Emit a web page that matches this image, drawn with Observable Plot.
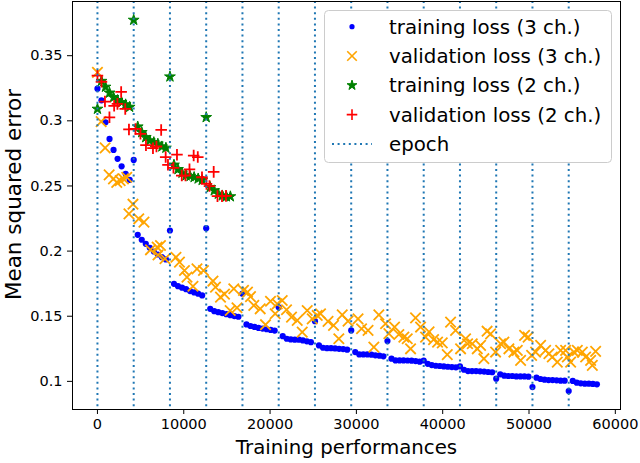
<!DOCTYPE html>
<html><head><meta charset="utf-8">
<script src="https://cdn.jsdelivr.net/npm/d3@7"></script>
<script src="https://cdn.jsdelivr.net/npm/@observablehq/plot@0.6"></script>
<style>
body{margin:0;background:#fff;}
#chart{width:640px;height:463px;}
</style></head><body><div id="chart"></div>
<script>
// epoch boundaries (training samples)
const epochStarts = [0, 4200, 8400, 12600, 16800, 21000, 25200, 29400, 33600, 37800, 42000, 46200, 50400, 54600];
// sample positions of the 9 measurements inside one epoch
const stepOffsets = [0, 467, 933, 1400, 1867, 2333, 2800, 3267, 3733];

// training loss (3 channels), one row per epoch
const train3 = [
  [0.3247, 0.3157, 0.2989, 0.2861, 0.2777, 0.2708, 0.2651, 0.2593, 0.2547],
  [0.2700, 0.2125, 0.2087, 0.2056, 0.2025, 0.1997, 0.1974, 0.1953, 0.1936],
  [0.2158, 0.1749, 0.1731, 0.1719, 0.1708, 0.1693, 0.1683, 0.1673, 0.1660],
  [0.2176, 0.1557, 0.1539, 0.1531, 0.1524, 0.1516, 0.1508, 0.1501, 0.1496],
  [0.1673, 0.1437, 0.1425, 0.1418, 0.1410, 0.1405, 0.1400, 0.1395, 0.1390],
  [0.1568, 0.1347, 0.1327, 0.1322, 0.1320, 0.1320, 0.1314, 0.1307, 0.1301],
  [0.1462, 0.1276, 0.1258, 0.1255, 0.1255, 0.1253, 0.1250, 0.1248, 0.1243],
  [0.1391, 0.1225, 0.1207, 0.1207, 0.1207, 0.1205, 0.1200, 0.1197, 0.1192],
  [0.1309, 0.1174, 0.1161, 0.1161, 0.1161, 0.1160, 0.1159, 0.1156, 0.1151],
  [0.1160, 0.1135, 0.1125, 0.1120, 0.1118, 0.1115, 0.1112, 0.1110, 0.1108],
  [0.1115, 0.1089, 0.1079, 0.1079, 0.1079, 0.1077, 0.1075, 0.1072, 0.1070],
  [0.1021, 0.1054, 0.1044, 0.1041, 0.1041, 0.1038, 0.1038, 0.1038, 0.1036],
  [0.0956, 0.1028, 0.1018, 0.1013, 0.1010, 0.1010, 0.1008, 0.1005, 0.1005],
  [0.0926, 0.1003, 0.0990, 0.0985, 0.0982, 0.0982, 0.0980, 0.0977]
];

// training loss (2 channels), one row per epoch
const train2 = [
  [0.3091, 0.3305, 0.3260, 0.3215, 0.3180, 0.3158, 0.3142, 0.3125, 0.3106],
  [0.3774, 0.2955, 0.2912, 0.2873, 0.2848, 0.2835, 0.2823, 0.2802, 0.2792],
  [0.3339, 0.2662, 0.2628, 0.2600, 0.2580, 0.2575, 0.2567, 0.2556, 0.2545],
  [0.3027, 0.2490, 0.2465, 0.2439, 0.2426, 0.2419, 0.2419]
];

// validation loss (3 channels)
const val3X = [
  0, 429, 892, 1356, 1854, 2237, 2631, 3013, 3396, 3651,
  4114, 4787, 5389, 6143, 6919, 7012, 7302, 7823, 9098, 9504,
  10083, 10373, 11068, 11532, 12285, 13386, 13676, 14256, 14719, 15380,
  15797, 16168, 16921, 17385, 17733, 18115, 18857, 19471, 20051, 20595,
  20827, 21407, 21905, 22485, 23145, 23725, 24304, 24884, 25463, 25846,
  26715, 27352, 27967, 28361, 29033, 30192, 30598, 31351, 32023, 32603,
  33379, 33762, 34422, 34921, 35500, 35894, 36277, 36856, 37436, 38015,
  38421, 38942, 39406, 39951, 40530, 40913, 41492, 42072, 42651, 42883,
  43428, 44007, 44390, 44772, 45143, 45549, 46128, 46708, 47090, 47670,
  48249, 48643, 49026, 49489, 49895, 50301, 50764, 51344, 51923, 52306,
  52700, 53279, 53662, 54241, 54438, 54821, 55203, 55597, 56177, 56559,
  57139, 57336, 57718
];
const val3Y = [
  0.3372, 0.2994, 0.2792, 0.2585, 0.2554, 0.2528, 0.2541, 0.2554, 0.2567, 0.2286,
  0.2360, 0.2248, 0.2222, 0.2010, 0.2030, 0.1970, 0.2043, 0.1941, 0.1953, 0.1915,
  0.1851, 0.1800, 0.1730, 0.1864, 0.1851, 0.1770, 0.1723, 0.1647, 0.1670, 0.1544,
  0.1711, 0.1565, 0.1698, 0.1685, 0.1650, 0.1583, 0.1557, 0.1435, 0.1615, 0.1519,
  0.1595, 0.1621, 0.1550, 0.1493, 0.1468, 0.1378, 0.1544, 0.1480, 0.1506, 0.1519,
  0.1460, 0.1430, 0.1327, 0.1510, 0.1462, 0.1480, 0.1404, 0.1391, 0.1263, 0.1510,
  0.1442, 0.1366, 0.1417, 0.1360, 0.1340, 0.1327, 0.1250, 0.1487, 0.1417, 0.1340,
  0.1380, 0.1320, 0.1301, 0.1295, 0.1205, 0.1455, 0.1391, 0.1250, 0.1327, 0.1289,
  0.1289, 0.1250, 0.1276, 0.1174, 0.1385, 0.1365, 0.1225, 0.1289, 0.1301, 0.1250,
  0.1225, 0.1238, 0.1161, 0.1353, 0.1340, 0.1199, 0.1225, 0.1276, 0.1238, 0.1212,
  0.1187, 0.1148, 0.1238, 0.1238, 0.1187, 0.1148, 0.1225, 0.1238, 0.1225, 0.1187,
  0.1161, 0.1123, 0.1230
];

// validation loss (2 channels)
const val2X = [0, 464, 869, 1391, 1936, 2318, 2747, 3222, 3651, 4404,
  4984, 5621, 6432, 6838, 7383, 7904, 8171, 8808, 9214, 9770,
  10199, 10663, 11149, 11625, 12112, 12633, 12981, 13468, 13908, 14430, 14893];
const val2Y = [0.3347, 0.3300, 0.3148, 0.3027, 0.3115, 0.3130, 0.3222, 0.3091, 0.2934, 0.2938,
  0.2900, 0.2813, 0.2790, 0.2803, 0.2930, 0.2722, 0.2662, 0.2639, 0.2740, 0.2580,
  0.2580, 0.2628, 0.2733, 0.2722, 0.2567, 0.2516, 0.2499, 0.2608, 0.2422, 0.2422, 0.2424];

const xTicks = [0, 10000, 20000, 30000, 40000, 50000, 60000];
const yTicks = [0.1, 0.15, 0.2, 0.25, 0.3, 0.35];
const legendLabels = ["training loss (3 ch.)", "validation loss (3 ch.)", "training loss (2 ch.)", "validation loss (2 ch.)", "epoch"];
const colors = {train3: "#0000ff", val3: "#ffa500", train2: "#008000", val2: "#ff0000", epoch: "#1f77b4"};

const perEpoch = (rows) => rows.flatMap((ys, e) => ys.map((y, k) => ({x: epochStarts[e] + stepOffsets[k], y})));
const train3Rows = perEpoch(train3);
const train2Rows = perEpoch(train2);
const val3Rows = val3X.map((x, i) => ({x, y: val3Y[i]}));
const val2Rows = val2X.map((x, i) => ({x, y: val2Y[i]}));

const FONT = "DejaVu Sans";
const R = {train3: 3.1, val3: 4.8, train2: 3.4, val2: 3.8};
const plot = Plot.plot({
  width: 640, height: 463,
  marginLeft: 72, marginRight: 20, marginTop: 1, marginBottom: 54,
  style: {fontFamily: FONT, fontSize: "14.5px", color: "black", background: "white"},
  x: {domain: [-2890, 60600]},
  y: {domain: [0.0784, 0.3916]},
  marks: [
    Plot.dot(train3Rows, {x: "x", y: "y", r: R.train3, fill: colors.train3, stroke: null}),
    Plot.dot(val3Rows, {x: "x", y: "y", symbol: "times", r: R.val3, stroke: colors.val3, strokeWidth: 1.8}),
    Plot.dot(train2Rows, {x: "x", y: "y", symbol: "star", r: R.train2, fill: colors.train2, stroke: colors.train2, strokeWidth: 1}),
    Plot.dot(val2Rows, {x: "x", y: "y", symbol: "plus", r: R.val2, stroke: colors.val2, strokeWidth: 1.8}),
    Plot.ruleX(epochStarts, {stroke: colors.epoch, strokeWidth: 2, strokeDasharray: "2,3.6"}),
    Plot.frame({stroke: "black", strokeWidth: 1}),
    Plot.axisX({ticks: xTicks, tickFormat: d => String(d), tickSize: 5, tickPadding: 4, fontSize: 14.5,
      label: "Training performances", labelArrow: "none", labelAnchor: "center", labelOffset: 44}),
    Plot.axisY({ticks: yTicks, tickFormat: d => String(d), tickSize: 5, tickPadding: 5, fontSize: 14.5,
      label: "Mean squared error", labelArrow: "none", labelAnchor: "center", labelOffset: 67})
  ]
});
document.getElementById("chart").appendChild(plot);

const svg = d3.select(plot);
svg.selectAll('g[aria-label="x-axis label"]').attr("font-size", 19.8);
const yLab = svg.select('g[aria-label="y-axis label"]');
yLab.attr("font-size", 21.5).attr("transform", `translate(0,-11) ${yLab.attr("transform") || ""}`);
svg.selectAll('g[aria-label="x-axis label"] text, g[aria-label="y-axis label"] text').attr("font-size", null);

// legend (upper right, inside the axes)
const lg = svg.append("g").attr("font-family", FONT).attr("font-size", 19.8).attr("text-anchor", "start");
lg.append("rect").attr("x", 324.5).attr("y", 10.5).attr("width", 287).attr("height", 152).attr("rx", 4)
  .attr("fill", "white").attr("stroke", "#cccccc");
const rowY = (i) => 26.7 + i * 29.3;
const mx = 352;
const sym = (type, r) => d3.symbol().type(type).size(r * r * Math.PI)();
lg.append("circle").attr("cx", mx).attr("cy", rowY(0)).attr("r", 2.6).attr("fill", colors.train3);
lg.append("path").attr("d", sym(d3.symbolTimes, 4.4)).attr("transform", `translate(${mx},${rowY(1)})`)
  .attr("fill", "none").attr("stroke", colors.val3).attr("stroke-width", 1.6);
lg.append("path").attr("d", sym(d3.symbolStar, 3.1)).attr("transform", `translate(${mx},${rowY(2)})`)
  .attr("fill", colors.train2).attr("stroke", colors.train2).attr("stroke-width", 1);
lg.append("path").attr("d", sym(d3.symbolPlus, 3.5)).attr("transform", `translate(${mx},${rowY(3)})`)
  .attr("fill", "none").attr("stroke", colors.val2).attr("stroke-width", 1.6);
lg.append("line").attr("x1", 332).attr("x2", 372).attr("y1", rowY(4)).attr("y2", rowY(4))
  .attr("stroke", colors.epoch).attr("stroke-width", 2).attr("stroke-dasharray", "2,3.6");
legendLabels.forEach((t, i) => {
  lg.append("text").attr("x", 389).attr("y", rowY(i)).attr("dy", "0.35em").attr("fill", "black").text(t);
});
</script>
</body></html>
